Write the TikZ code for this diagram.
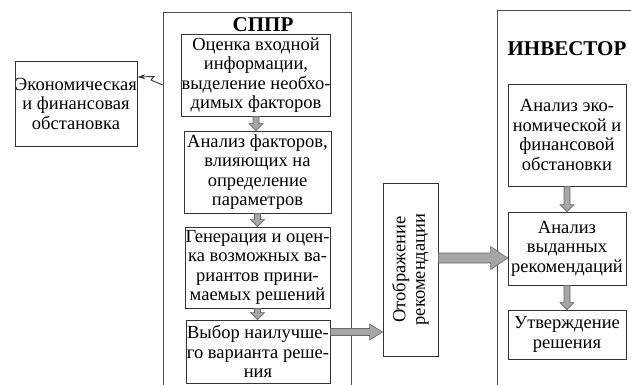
\documentclass[tikz,border=0pt]{standalone}
\usepackage{fontspec}
\setmainfont{Liberation Serif}
\usetikzlibrary{calc,arrows.meta}
\newcommand\boxfont{\fontsize{18.5}{19.5}\selectfont}
\newcommand\titlefont{\fontsize{21}{24}\selectfont\bfseries}
\newcommand\blockv[2]{%
  \draw[barrow] let \p1=(#1.south), \p2=(#2.north) in
    (\x1-3,\y1) -- (\x1-3,\y2+7) -- (\x1-7,\y2+7) -- (\x1,\y2) --
    (\x1+7,\y2+7) -- (\x1+3,\y2+7) -- (\x1+3,\y1) -- cycle;}
% #1 from, #2 to, #3 y, #4 shaft half, #5 head half, #6 head length
\newcommand\blockh[6]{%
  \draw[barrow] let \p1=(#1.east), \p2=(#2.west), \p3=(0,#3) in
    (\x1,\y3+#4) -- (\x2-#6,\y3+#4) -- (\x2-#6,\y3+#5) -- (\x2,\y3) --
    (\x2-#6,\y3-#5) -- (\x2-#6,\y3-#4) -- (\x1,\y3-#4) -- cycle;}
\begin{document}
\begin{tikzpicture}[x=1pt,y=-1pt,
  box/.style={draw=black!80, line width=0.8pt, align=center, inner sep=0pt, font=\boxfont},
  frame/.style={draw=black!70, line width=0.8pt, inner sep=0pt},
  title/.style={inner sep=0pt, font=\titlefont},
  barrow/.style={fill=black!35, draw=black!60, line width=0.6pt}]
\useasboundingbox (0,0) rectangle (631,385);
\clip (0,0) rectangle (631,385);
% frames
\node[frame, minimum width=188pt, minimum height=408pt] (sppr) at (257,216) {};
\node[frame, minimum width=163pt, minimum height=410pt] (inv) at (578.5,215) {};
\node[title] (spprt) at (263,25) {СППР};
\node[title] (invt) at (567,49) {ИНВЕСТОР};
% left box
\node[box, minimum width=122pt, minimum height=85pt] (econ) at (76,103.5)
  {Экономическая\\и финансовая\\обстановка};
% SPPR boxes
\node[box, minimum width=146pt, minimum height=82pt] (b1) at (256,75)
  {Оценка входной\\информации,\\выделение необхо-\\димых факторов};
\node[box, minimum width=147pt, minimum height=82pt] (b2) at (257.5,172)
  {Анализ факторов,\\влияющих на\\определение\\параметров};
\node[box, minimum width=145pt, minimum height=81pt] (b3) at (257.5,267.5)
  {Генерация и оцен-\\ка возможных ва-\\риантов прини-\\маемых решений};
\node[box, minimum width=144pt, minimum height=63pt] (b4) at (258,351.5)
  {Выбор наилучше-\\го варианта реше-\\ния};
% display box
\node[box, minimum width=55pt, minimum height=173pt] (disp) at (410.5,269.5) {};
\node[inner sep=0pt, font=\boxfont, align=center, rotate=90] (dispt) at (disp.center)
  {Отображение\\рекомендации};
% investor boxes
\node[box, minimum width=118pt, minimum height=102pt] (ia) at (567,135)
  {Анализ эко-\\номической и\\финансовой\\обстановки};
\node[box, minimum width=118pt, minimum height=73pt] (ib) at (567,248.5)
  {Анализ\\выданных\\рекомендаций};
\node[box, minimum width=118pt, minimum height=49pt] (ic) at (567,334.5)
  {Утверждение\\решения};
% block arrows
\blockv{b1}{b2}
\blockv{b2}{b3}
\blockv{b3}{b4}
\blockv{ia}{ib}
\blockv{ib}{ic}
\blockh{b4}{disp}{332}{3.5}{8}{13}
\blockh{disp}{ib}{258}{5}{11.5}{17}
% zigzag connector
\coordinate (zz) at (sppr.west |- 0,85);
\draw[black!80, line width=0.9pt, -{Stealth[open,length=8pt,width=5pt]}]
  (zz) -- (151,80) -- (154,76.5) -- (econ.east |- 0,77);
\end{tikzpicture}
\end{document}
